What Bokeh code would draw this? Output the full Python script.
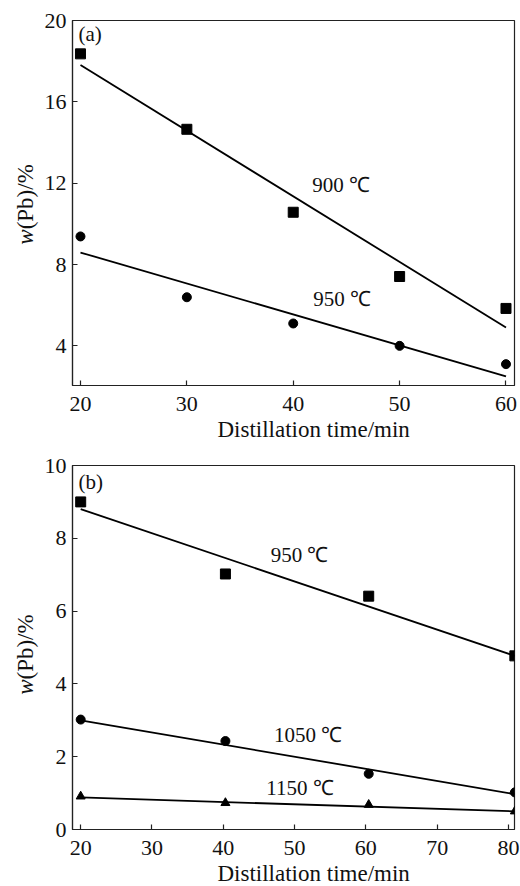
import math
from bokeh.plotting import figure
from bokeh.layouts import column, row
from bokeh.models import FixedTicker, Label, Range1d, Title
from bokeh.embed import file_html
from bokeh.resources import INLINE

# ---------------- data: panel (a) ----------------
a_time = [20, 30, 40, 50, 60]
a_900 = [18.36, 14.65, 10.57, 7.41, 5.84]
a_950 = [9.38, 6.39, 5.10, 4.00, 3.10]
a_fit_x = [20, 60]
a_fit_900 = [17.81, 4.90]
a_fit_950 = [8.59, 2.50]
a_xticks = [20, 30, 40, 50, 60]
a_yticks = [4, 8, 12, 16, 20]

# ---------------- data: panel (b) ----------------
b_time = [20, 40.3, 60.4, 80.9]
b_950 = [9.00, 7.02, 6.41, 4.77]
b_1050 = [3.02, 2.43, 1.53, 1.02]
b_1150 = [0.91, 0.73, 0.68, 0.50]
b_fit_x = [20, 80.9]
b_fit_950 = [8.80, 4.77]
b_fit_1050 = [3.00, 0.97]
b_fit_1150 = [0.88, 0.50]
b_xticks = [20, 30, 40, 50, 60, 70, 80]
b_yticks = [0, 2, 4, 6, 8, 10]

FONT = "Liberation Serif"
LAB_W = 40


def base_fig(height, top, bottom, xr, yr, xt, yt):
    p = figure(width=520 - LAB_W, height=height, output_backend="svg", toolbar_location=None,
               x_range=Range1d(*xr), y_range=Range1d(*yr),
               min_border_left=72 - LAB_W, min_border_right=6,
               min_border_top=top, min_border_bottom=bottom)
    p.xgrid.visible = False
    p.ygrid.visible = False
    p.outline_line_color = "#222222"
    p.outline_line_width = 1.2
    p.background_fill_color = "white"
    p.border_fill_color = "white"
    for ax in (p.xaxis[0], p.yaxis[0]):
        ax.axis_line_color = "#222222"
        ax.axis_line_width = 1.2
        ax.major_tick_in = 5
        ax.major_tick_out = 0
        ax.minor_tick_in = 0
        ax.minor_tick_out = 0
        ax.major_tick_line_color = "#222222"
        ax.major_tick_line_width = 1.2
        ax.major_label_text_font = FONT
        ax.major_label_text_font_size = "22px"
        ax.major_label_text_color = "#111111"
    p.xaxis[0].ticker = FixedTicker(ticks=xt)
    p.yaxis[0].ticker = FixedTicker(ticks=yt)
    p.xaxis[0].major_label_standoff = 11
    p.yaxis[0].major_label_standoff = 6
    p.add_layout(Title(text="Distillation time/min", align="left", offset=145,
                       text_font=FONT, text_font_size="23px", text_font_style="normal",
                       text_color="#111111", standoff=2), "below")
    return p


def label_fig(height, top, bottom, yr):
    q = figure(width=LAB_W, height=height, output_backend="svg", toolbar_location=None,
               x_range=Range1d(0, LAB_W), y_range=yr,
               min_border_left=0, min_border_right=0,
               min_border_top=top, min_border_bottom=bottom)
    q.axis.visible = False
    q.grid.visible = False
    q.outline_line_color = None
    q.border_fill_color = "white"
    return q


def add_text(p, x, y, t, size="21px", align="center", style="normal", angle=0.0,
             baseline="middle"):
    p.add_layout(Label(x=x, y=y, text=t, text_font=FONT, text_font_size=size,
                       text_align=align, text_baseline=baseline, text_font_style=style,
                       text_color="#111111", angle=angle))


def ylabel(q, y):
    add_text(q, 25, y, "w", size="23px", align="right", style="italic", angle=math.pi / 2)
    add_text(q, 25, y, "(Pb)/%", size="23px", align="left", angle=math.pi / 2)


# ---------------- panel (a) ----------------
pa = base_fig(443, 20, 58, (19.25, 60.8), (2.05, 20.0), a_xticks, a_yticks)
pa.line(a_fit_x, a_fit_900, line_color="black", line_width=1.8)
pa.line(a_fit_x, a_fit_950, line_color="black", line_width=1.8)
pa.scatter(a_time, a_900, marker="square", size=10, color="black")
pa.scatter(a_time, a_950, marker="circle", size=9, color="black")
add_text(pa, 44.5, 11.9, "900 ℃")
add_text(pa, 44.6, 6.32, "950 ℃")
add_text(pa, 19.81, 19.36, "(a)", align="left")
la = label_fig(443, 20, 58, pa.y_range)
ylabel(la, 9.73)

# ---------------- panel (b) ----------------
pb = base_fig(443, 22, 57, (18.85, 80.85), (0.0, 10.0), b_xticks, b_yticks)
pb.line(b_fit_x, b_fit_950, line_color="black", line_width=1.8)
pb.line(b_fit_x, b_fit_1050, line_color="black", line_width=1.8)
pb.line(b_fit_x, b_fit_1150, line_color="black", line_width=1.8)
pb.scatter(b_time, b_950, marker="square", size=10, color="black")
pb.scatter(b_time, b_1050, marker="circle", size=9, color="black")
pb.scatter(b_time, b_1150, marker="triangle", size=9, color="black")
add_text(pb, 50.7, 7.55, "950 ℃")
add_text(pb, 51.9, 2.59, "1050 ℃")
add_text(pb, 50.75, 1.14, "1150 ℃")
add_text(pb, 19.7, 9.54, "(b)", align="left")
lb = label_fig(443, 22, 57, pb.y_range)
ylabel(lb, 4.12)

layout = column(row(la, pa, spacing=0), row(lb, pb, spacing=0), spacing=0)
open("out.html", "w").write(file_html(layout, INLINE))
